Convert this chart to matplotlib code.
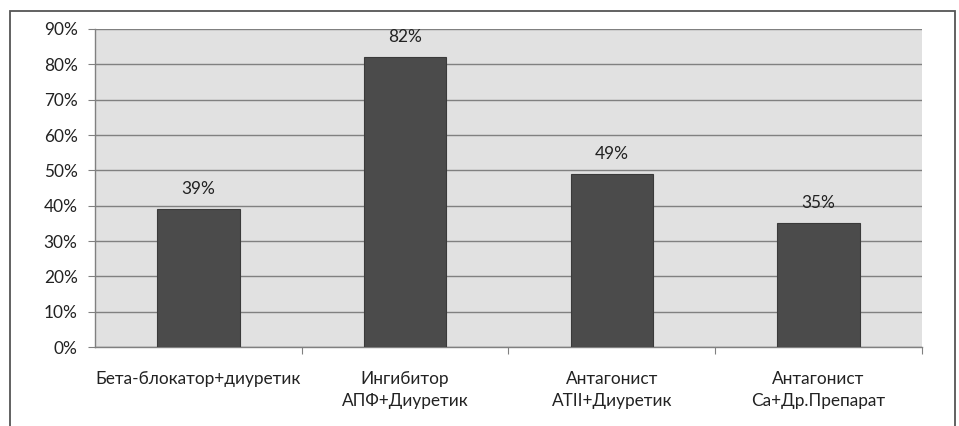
import matplotlib
matplotlib.use("Agg")
import matplotlib.pyplot as plt
from matplotlib.patches import Rectangle
from matplotlib.ticker import MultipleLocator, FuncFormatter

categories = [
    "Бета-блокатор+диуретик",
    "Ингибитор\nАПФ+Диуретик",
    "Антагонист\nATII+Диуретик",
    "Антагонист\nCa+Др.Препарат",
]
values = [39, 82, 49, 35]

plt.rcParams["font.family"] = ["Lato", "DejaVu Sans"]

W, H = 959, 426
fig = plt.figure(figsize=(W / 100, H / 100), dpi=100)
fig.patch.set_facecolor("white")

# outer chart frame (bottom edge runs off the canvas)
fig.patches.append(Rectangle((10 / W, -0.05), (955 - 10) / W, 1.05 - 11 / H,
                             transform=fig.transFigure, fill=False,
                             edgecolor="#555555", linewidth=1.3))

x0, x1 = 95, 922
y_top, y_bot = 29, 347
ax = fig.add_axes([x0 / W, 1 - y_bot / H, (x1 - x0) / W, (y_bot - y_top) / H])
ax.set_facecolor("#e1e1e1")

FS = 12.4
pos = list(range(len(categories)))
ax.bar(pos, values, width=0.4, color="#4b4b4b", edgecolor="#3a3a3a",
       linewidth=0.8, zorder=3)
for p, v in zip(pos, values):
    ax.text(p, v + 3.4, f"{v}%", ha="center", va="bottom", fontsize=FS,
            color="#222222", zorder=4)

ax.set_xlim(-0.5, len(categories) - 0.5)
ax.set_ylim(0, 90)
ax.yaxis.set_major_locator(MultipleLocator(10))
ax.yaxis.set_major_formatter(FuncFormatter(lambda v, _: f"{int(round(v))}%"))
ax.grid(axis="y", color="#808080", linewidth=1.0, zorder=1)
ax.set_axisbelow(True)

ax.set_xticks([p + 0.5 for p in pos[:-1]] + [len(categories) - 0.5], minor=False)
ax.set_xticklabels([])
ax.set_xticks(pos, minor=True)
ax.set_xticklabels(categories, minor=True, fontsize=FS, color="#222222",
                   linespacing=1.5, va="top")
ax.tick_params(axis="x", which="minor", length=0, pad=17)
ax.tick_params(axis="x", which="major", length=5, color="#808080", direction="out")
ax.tick_params(axis="y", length=5, color="#808080", labelsize=FS,
               labelcolor="#222222", pad=7.5)

for s in ["top", "right"]:
    ax.spines[s].set_visible(False)
for s in ["left", "bottom"]:
    ax.spines[s].set_color("#808080")
    ax.spines[s].set_linewidth(1.0)

fig.savefig("out.png", dpi=100, facecolor="white")
